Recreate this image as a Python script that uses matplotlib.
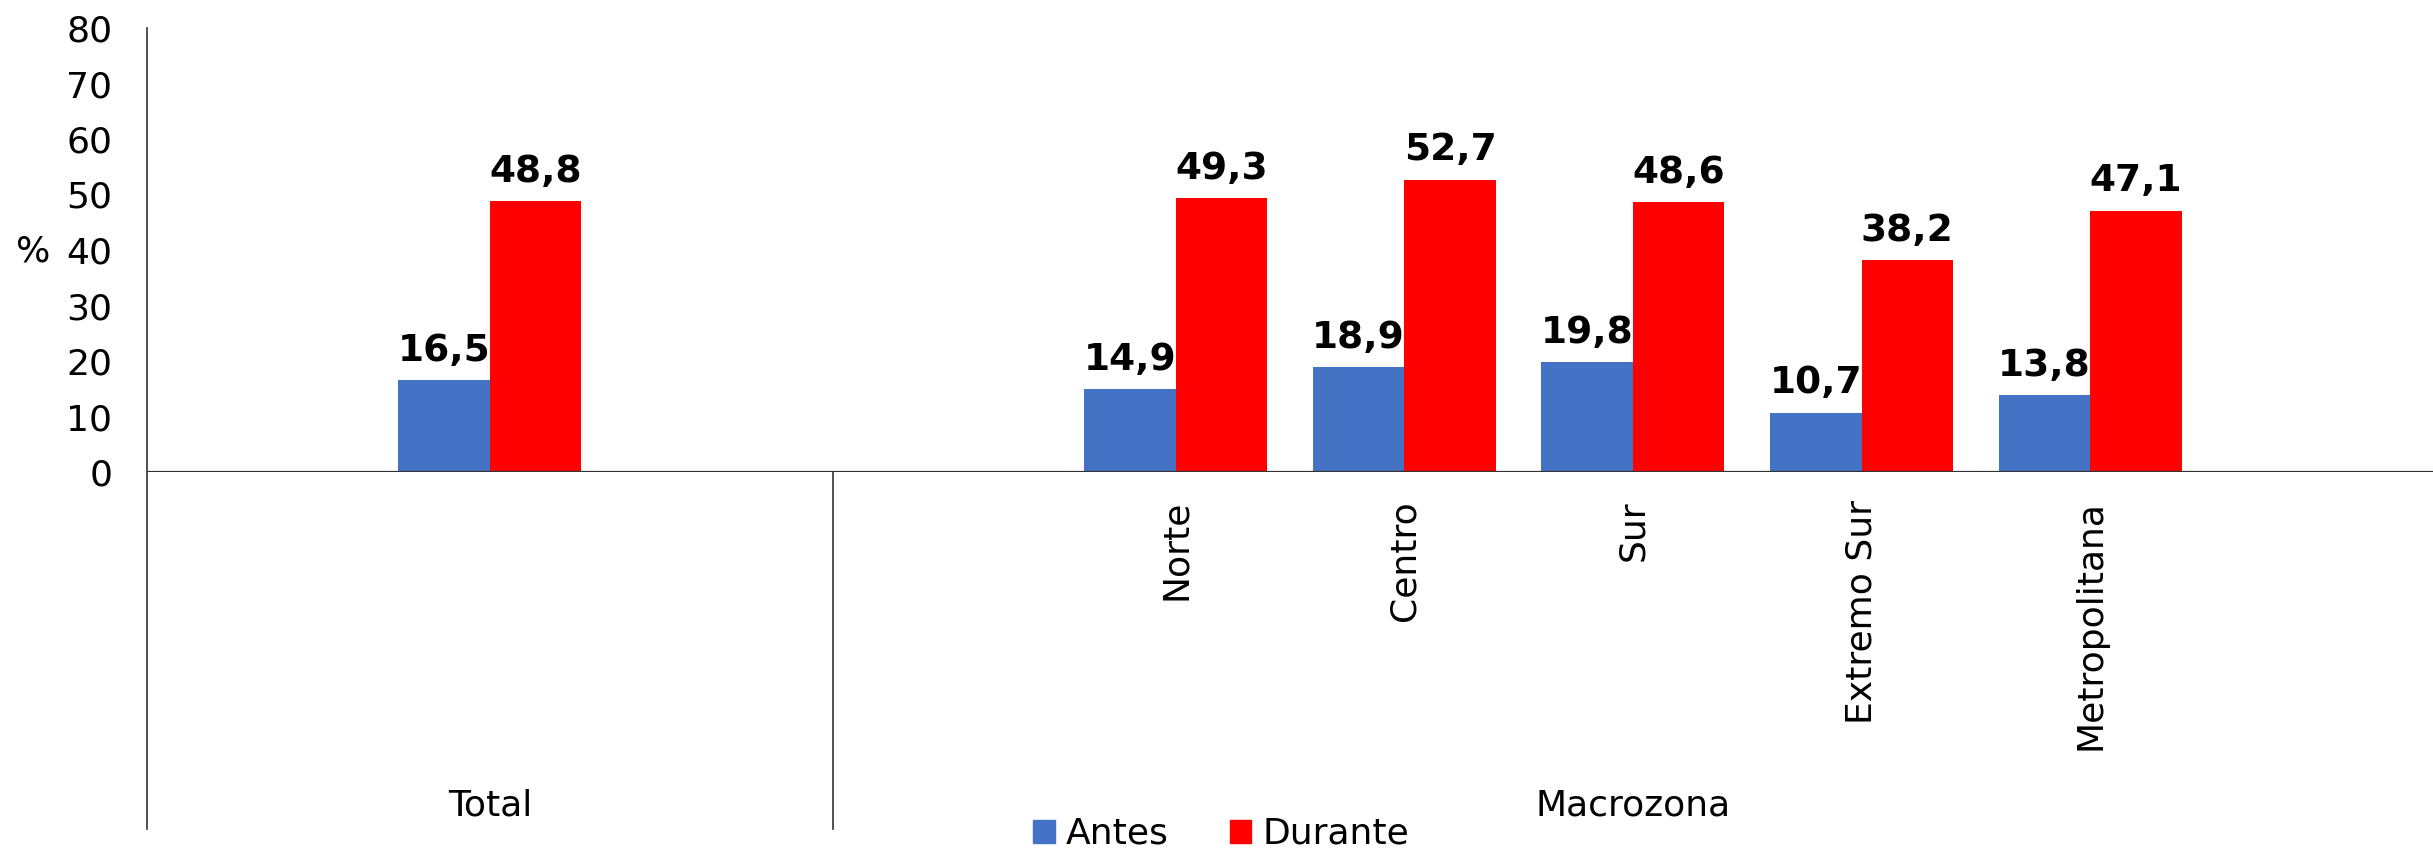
import matplotlib
matplotlib.use("Agg")
import matplotlib.pyplot as plt
from matplotlib.patches import Patch
from matplotlib.lines import Line2D

# ---- data ----
groups = ["Total", "Macrozona"]
categories = ["Total", "Norte", "Centro", "Sur", "Extremo Sur", "Metropolitana"]
cat_labels = ["", "Norte", "Centro", "Sur", "Extremo Sur", "Metropolitana"]
cat_group = [0, 1, 1, 1, 1, 1]
antes = [16.5, 14.9, 18.9, 19.8, 10.7, 13.8]
durante = [48.8, 49.3, 52.7, 48.6, 38.2, 47.1]
series_names = ["Antes", "Durante"]
yticks = [0, 10, 20, 30, 40, 50, 60, 70, 80]

# ---- layout (Excel multi-level axis with empty slots) ----
group_slots = [3, 7]              # slots per group
slot_of_cat = [1, 4, 5, 6, 7, 8]  # slot index of each category
n_slots = sum(group_slots)

BLUE = "#4472C4"
RED = "#FF0000"
FS = 26

plt.rcParams["font.family"] = ["DejaVu Sans"]

W, H = 2433, 851
fig = plt.figure(figsize=(W / 100, H / 100), dpi=100)
ax = fig.add_axes([147 / W, 1 - 472 / H, 1 - 147 / W, 444 / H])

xs = [s + 0.5 for s in slot_of_cat]
bw = 0.4
ax.bar([x - bw / 2 for x in xs], antes, width=bw, color=BLUE, label=series_names[0])
ax.bar([x + bw / 2 for x in xs], durante, width=bw, color=RED, label=series_names[1])

for x, a, d in zip(xs, antes, durante):
    ax.annotate(f"{a:.1f}".replace(".", ","), (x - bw / 2, a), xytext=(0, 14),
                textcoords="offset points", ha="center", va="baseline",
                fontsize=27, fontweight="bold")
    ax.annotate(f"{d:.1f}".replace(".", ","), (x + bw / 2, d), xytext=(0, 14),
                textcoords="offset points", ha="center", va="baseline",
                fontsize=27, fontweight="bold")

ax.set_xlim(0, n_slots)
ax.set_ylim(0, 80)
ax.set_yticks(yticks)
ax.set_yticklabels([str(t) for t in yticks], fontsize=FS)
ax.tick_params(axis="y", length=0, pad=25)
ax.set_xticks([])
for s in ax.spines.values():
    s.set_visible(False)

ax.axhline(0, color="#333333", lw=1.6, zorder=3)

trans = ax.get_xaxis_transform()
ybot = (472 - 829) / 444
# axis line and group separators
bounds = [0]
for g in group_slots:
    bounds.append(bounds[-1] + g)
for b in bounds[:-1]:
    top = 1.0 if b == 0 else 0.0
    ax.add_line(Line2D([b, b], [ybot, top], transform=trans, color="#333333",
                       lw=1.2, clip_on=False))

# category labels
for x, lab in zip(xs, cat_labels):
    if lab:
        ax.text(x, (472 - 500) / 444, lab, transform=trans, rotation=90,
                ha="center", va="top", fontsize=FS)

# group labels
for i, g in enumerate(groups):
    cx = (bounds[i] + bounds[i + 1]) / 2
    ax.text(cx, (472 - 805) / 444, g, transform=trans, ha="center",
            va="center", fontsize=FS)

fig.text(33 / W, 1 - 252 / H, "%", ha="center", va="center", fontsize=FS)

handles = [Patch(color=BLUE, label=series_names[0]),
           Patch(color=RED, label=series_names[1])]
fig.legend(handles=handles, loc="center", bbox_to_anchor=(1221 / W, 1 - 834 / H),
           ncol=2, frameon=False, fontsize=FS, handlelength=0.6,
           handleheight=0.6, handletextpad=0.3, columnspacing=1.7,
           borderpad=0, borderaxespad=0)

fig.savefig("out.png", dpi=100)
